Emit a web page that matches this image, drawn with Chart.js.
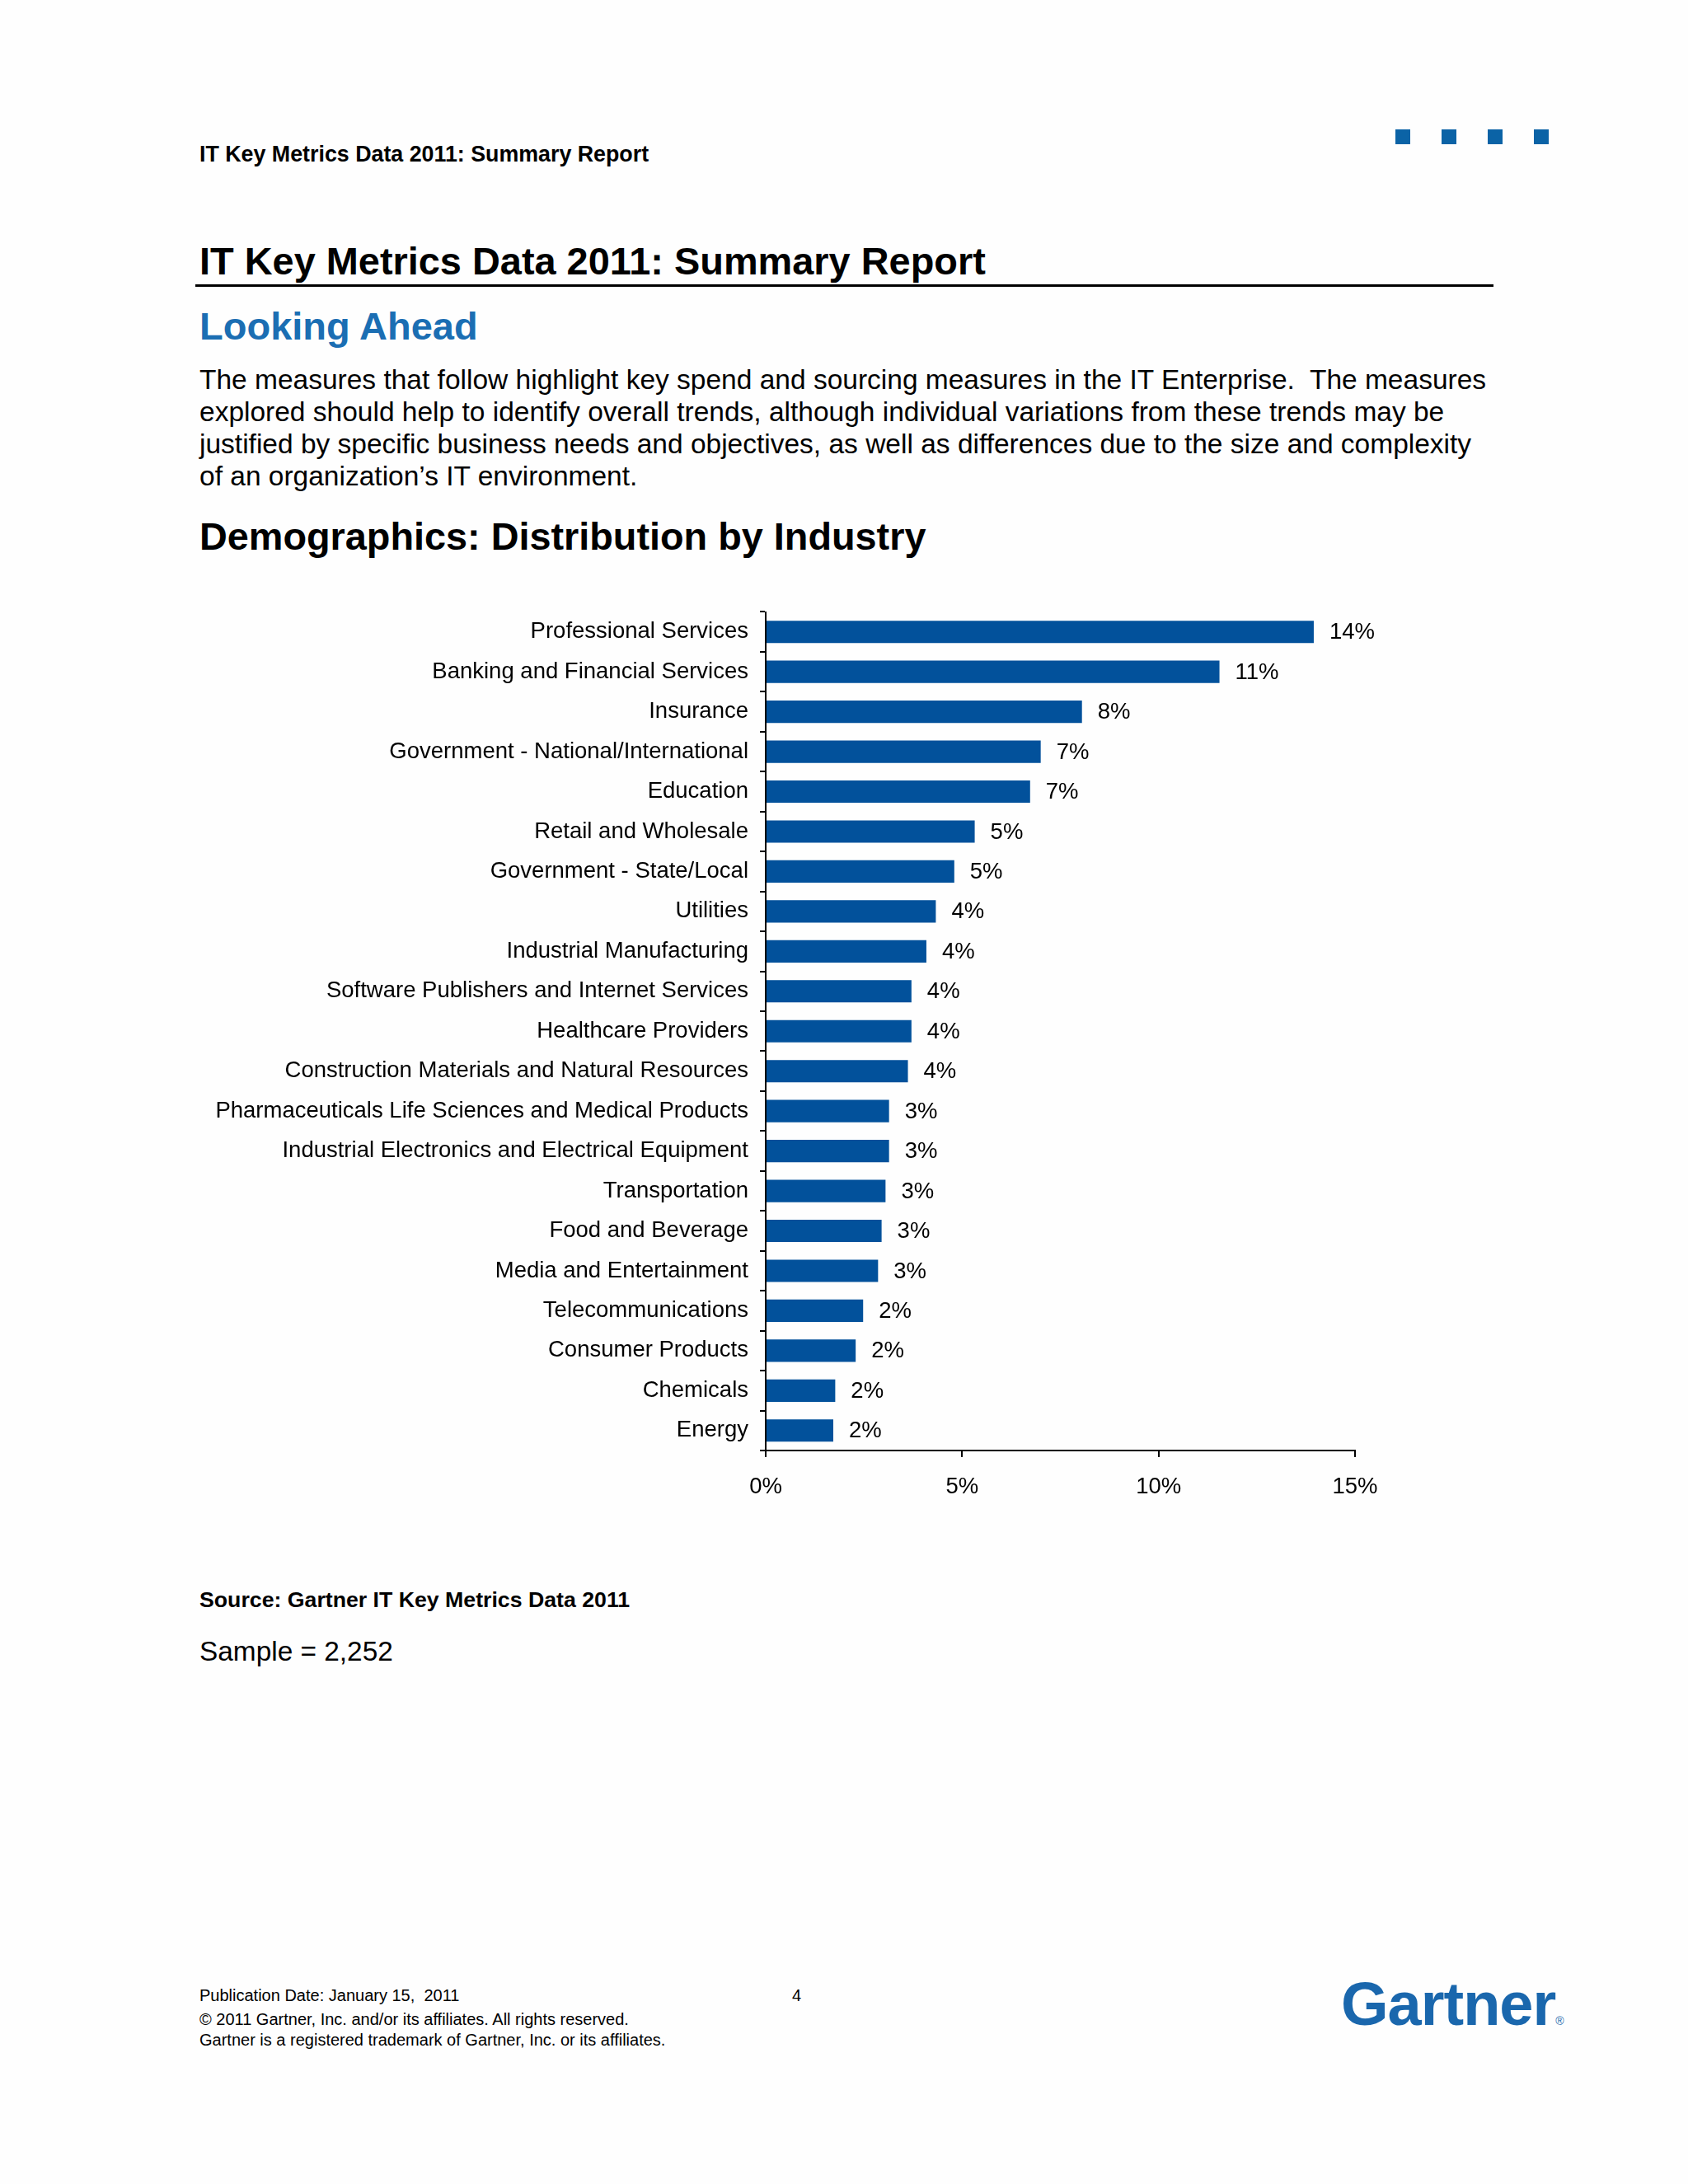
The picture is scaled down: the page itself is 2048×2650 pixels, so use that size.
<!DOCTYPE html>
<html>
<head>
<meta charset="utf-8">
<title>IT Key Metrics Data 2011: Summary Report</title>
<script src="https://cdn.jsdelivr.net/npm/chart.js@4.4.1/dist/chart.umd.min.js"></script>
<style>
    body { margin: 0; background: #fefefe; font-family: "Liberation Sans", Arial, sans-serif; color: #000; }
    .page { position: relative; width: 2048px; height: 2650px; }
    .abs { position: absolute; line-height: 1; white-space: nowrap; }
    .bold { font-weight: bold; }
    .sq { position: absolute; top: 157px; width: 18px; height: 18px; background: #0b63a6; }
    #rule { position: absolute; left: 237px; top: 345px; width: 1575px; height: 3px; background: #000; }
    #para { position: absolute; left: 242px; top: 441px; font-size: 33.5px; line-height: 39px; white-space: nowrap; }
    #chart-box { position: absolute; left: 200px; top: 712px; width: 1560px; height: 1138px; }
    #logo { position: absolute; left: 1627px; top: 2395px; font-size: 74px; font-weight: bold; color: #1a67ad; line-height: 1; letter-spacing: -1px; }
    #logo span { font-size: 14px; font-weight: normal; letter-spacing: 0; }
</style>
</head>
<body>
<div class="page">
    <div class="abs bold" style="left:242px; top:174px; font-size:26.8px;">IT Key Metrics Data 2011: Summary Report</div>
    <div class="sq" style="left:1693px;"></div>
    <div class="sq" style="left:1749px;"></div>
    <div class="sq" style="left:1805px;"></div>
    <div class="sq" style="left:1861px;"></div>

    <div class="abs bold" style="left:242px; top:294px; font-size:46.9px;">IT Key Metrics Data 2011: Summary Report</div>
    <div id="rule"></div>
    <div class="abs bold" style="left:242px; top:372px; font-size:47px; color:#1b6eb3;">Looking Ahead</div>
    <div id="para">The measures that follow highlight key spend and sourcing measures in the IT Enterprise.&nbsp; The measures<br>explored should help to identify overall trends, although individual variations from these trends may be<br>justified by specific business needs and objectives, as well as differences due to the size and complexity<br>of an organization’s IT environment.</div>
    <div class="abs bold" style="left:242px; top:628px; font-size:46.8px;">Demographics: Distribution by Industry</div>

    <div id="chart-box"><canvas id="industryChart" width="1560" height="1138"></canvas></div>

    <div class="abs bold" style="left:242px; top:1928px; font-size:26.7px;">Source: Gartner IT Key Metrics Data 2011</div>
    <div class="abs" style="left:242px; top:1987px; font-size:33.4px;">Sample = 2,252</div>

    <div class="abs" style="left:242px; top:2411px; font-size:20px;">Publication Date: January 15,&nbsp; 2011</div>
    <div class="abs" style="left:961px; top:2411px; font-size:20px;">4</div>
    <div class="abs" style="left:242px; top:2440px; font-size:20px;">© 2011 Gartner, Inc. and/or its affiliates. All rights reserved.</div>
    <div class="abs" style="left:242px; top:2465px; font-size:20px;">Gartner is a registered trademark of Gartner, Inc. or its affiliates.</div>
    <div id="logo">Gartner<span>®</span></div>
</div>

<script>
// Données
const industries = [
    'Professional Services',
    'Banking and Financial Services',
    'Insurance',
    'Government - National/International',
    'Education',
    'Retail and Wholesale',
    'Government - State/Local',
    'Utilities',
    'Industrial Manufacturing',
    'Software Publishers and Internet Services',
    'Healthcare Providers',
    'Construction Materials and Natural Resources',
    'Pharmaceuticals Life Sciences and Medical Products',
    'Industrial Electronics and Electrical Equipment',
    'Transportation',
    'Food and Beverage',
    'Media and Entertainment',
    'Telecommunications',
    'Consumer Products',
    'Chemicals',
    'Energy'
];
const shares = [13.95, 11.55, 8.05, 7.0, 6.73, 5.32, 4.8, 4.33, 4.09, 3.71, 3.71, 3.62, 3.14, 3.14, 3.05, 2.95, 2.86, 2.48, 2.29, 1.77, 1.72];
const shareLabels = ['14%', '11%', '8%', '7%', '7%', '5%', '5%', '4%', '4%', '4%', '4%', '4%', '3%', '3%', '3%', '3%', '3%', '2%', '2%', '2%', '2%'];
const xMin = 0;
const xMax = 15;
const xStep = 5;

Chart.defaults.font.family = '"Liberation Sans", Arial, sans-serif';
Chart.defaults.font.size = 27.5;
Chart.defaults.color = '#000';

// Étiquettes de valeur à droite des barres
const valueLabels = {
    id: 'valueLabels',
    afterDatasetsDraw(chart) {
        const ctx = chart.ctx;
        const meta = chart.getDatasetMeta(0);
        ctx.save();
        ctx.font = '27.5px "Liberation Sans", Arial, sans-serif';
        ctx.fillStyle = '#000';
        ctx.textAlign = 'left';
        ctx.textBaseline = 'middle';
        meta.data.forEach((bar, i) => {
            ctx.fillText(shareLabels[i], bar.x + 19, bar.y + 1);
        });
        ctx.restore();
    }
};

const ctx = document.getElementById('industryChart').getContext('2d');
const industryChart = new Chart(ctx, {
    type: 'bar',
    data: {
        labels: industries,
        datasets: [{
            data: shares,
            backgroundColor: '#02519b',
            borderWidth: 0,
            categoryPercentage: 1,
            barPercentage: 0.56
        }]
    },
    options: {
        indexAxis: 'y',
        responsive: false,
        animation: false,
        layout: { padding: { top: 14, right: 116, left: 0, bottom: 0 } },
        plugins: {
            legend: { display: false },
            tooltip: { enabled: false }
        },
        scales: {
            y: {
                afterFit(scale) { scale.width = 729; },
                grid: {
                    drawOnChartArea: false,
                    drawTicks: true,
                    tickLength: 7,
                    color: '#000',
                    lineWidth: 2,
                    offset: true
                },
                border: { display: true, color: '#000', width: 2 },
                ticks: { padding: 14, autoSkip: false, color: '#000' }
            },
            x: {
                min: xMin,
                max: xMax,
                afterFit(scale) { scale.height = 90; },
                grid: {
                    drawOnChartArea: false,
                    drawTicks: true,
                    tickLength: 8,
                    color: '#000',
                    lineWidth: 2
                },
                border: { display: true, color: '#000', width: 2 },
                ticks: {
                    stepSize: xStep,
                    padding: 20,
                    color: '#000',
                    callback: value => value + '%'
                }
            }
        }
    },
    plugins: [valueLabels]
});
</script>
</body>
</html>
